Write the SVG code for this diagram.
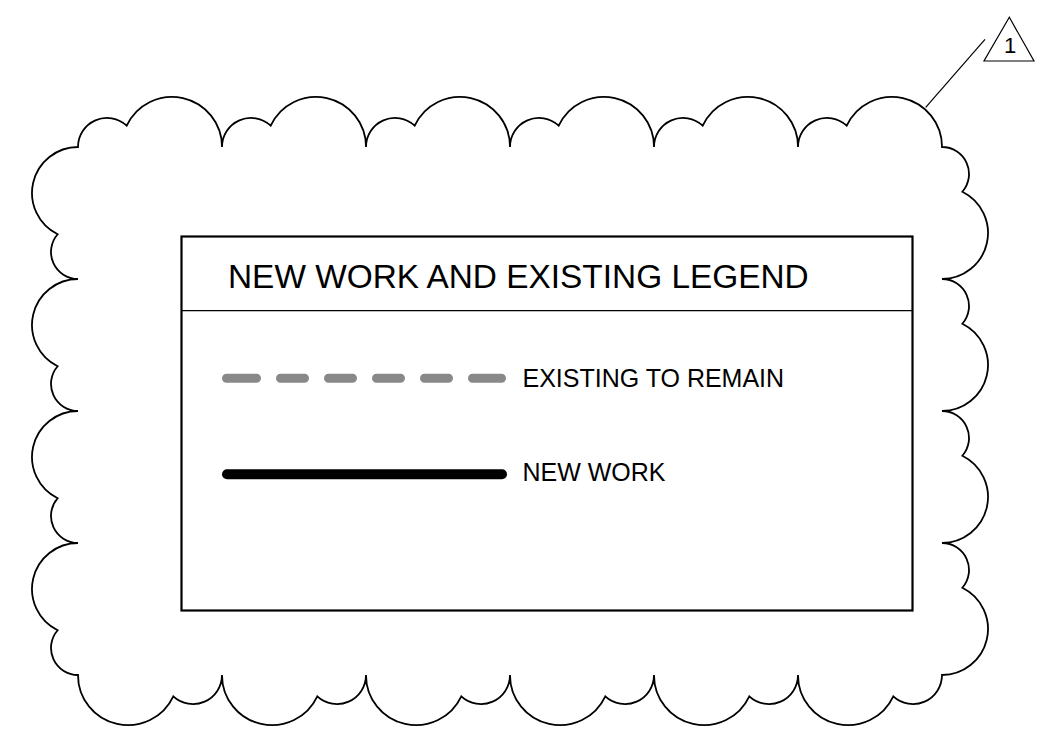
<svg xmlns="http://www.w3.org/2000/svg" width="1050" height="749" viewBox="0 0 1050 749">
<style>
text{font-family:"Liberation Sans",Arial,sans-serif;fill:#000}
.cloud{fill:none;stroke:#000;stroke-width:1.8;stroke-linejoin:miter}
.thin{fill:none;stroke:#000;stroke-width:1.2}
.box{fill:none;stroke:#000;stroke-width:2.2}
</style>
<rect width="1050" height="749" fill="#fff"/>
<g id="cloud">
<path class="cloud" d="M78 147
A29 29 0 0 1 126.7 125.7 A50 50 0 0 1 222 147
A29 29 0 0 1 270.7 125.7 A50 50 0 0 1 366 147
A29 29 0 0 1 414.7 125.7 A50 50 0 0 1 510 147
A29 29 0 0 1 558.7 125.7 A50 50 0 0 1 654 147
A29 29 0 0 1 702.7 125.7 A50 50 0 0 1 798 147
A29 29 0 0 1 846.7 125.7 A50 50 0 0 1 942 147
A27 27 0 0 1 962.35 191.75 A46 46 0 0 1 942 279
A27 27 0 0 1 962.35 323.75 A46 46 0 0 1 942 411
A27 27 0 0 1 962.35 455.75 A46 46 0 0 1 942 543
A27 27 0 0 1 962.35 587.75 A46 46 0 0 1 942 675
A29 29 0 0 1 893.3 696.3 A50 50 0 0 1 798 675
A29 29 0 0 1 749.3 696.3 A50 50 0 0 1 654 675
A29 29 0 0 1 605.3 696.3 A50 50 0 0 1 510 675
A29 29 0 0 1 461.3 696.3 A50 50 0 0 1 366 675
A29 29 0 0 1 317.3 696.3 A50 50 0 0 1 222 675
A29 29 0 0 1 173.3 696.3 A50 50 0 0 1 78 675
A27 27 0 0 1 57.65 630.25 A46 46 0 0 1 78 543
A27 27 0 0 1 57.65 498.25 A46 46 0 0 1 78 411
A27 27 0 0 1 57.65 366.25 A46 46 0 0 1 78 279
A27 27 0 0 1 57.65 234.25 A46 46 0 0 1 78 147 Z"/>
</g>
<g id="revision-tag">
<polygon class="thin" points="1009.3,17.3 984,61 1034,61"/>
<text x="1010" y="52.5" font-size="22" text-anchor="middle">1</text>
</g>
<g id="connectors">
<line class="thin" x1="985" y1="39.3" x2="925.7" y2="107.3"/>
</g>
<g id="legend">
<rect class="box" x="181.5" y="236.5" width="731" height="374"/>
<line class="thin" x1="181.5" y1="310.7" x2="912.5" y2="310.7"/>
<text x="228" y="288" font-size="33.4">NEW WORK AND EXISTING LEGEND</text>
<path d="M226.5 378.3H256.5M280.5 378.3H304.5M328.5 378.3H352.5M376.5 378.3H400.5M424.5 378.3H448.5M472.5 378.3H501.5" fill="none" stroke="#888" stroke-width="9" stroke-linecap="round"/>
<text x="522.5" y="387" font-size="25">EXISTING TO REMAIN</text>
<line x1="227" y1="474.3" x2="502" y2="474.3" stroke="#000" stroke-width="10" stroke-linecap="round"/>
<text x="522.5" y="481" font-size="25">NEW WORK</text>
</g>
</svg>
